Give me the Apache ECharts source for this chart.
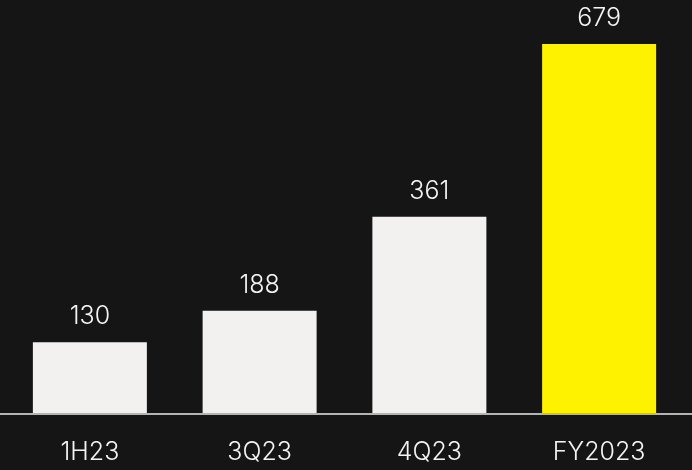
<!DOCTYPE html>
<html>
<head>
<meta charset="utf-8">
<script src="https://cdn.jsdelivr.net/npm/echarts@6/dist/echarts.min.js"></script>
<style>
html,body{margin:0;padding:0;background:#151515;}
#chart{width:692px;height:470px;}
</style>
</head>
<body>
<div id="chart"></div>
<script>
var categories = ['1H23', '3Q23', '4Q23', 'FY2023'];
var values = [130, 188, 361, 679];
var barColors = ['#f2f1ef', '#f2f1ef', '#f2f1ef', '#fff200'];

var chart = echarts.init(document.getElementById('chart'));
var font = 'Inter, "Noto Sans", sans-serif';
chart.setOption({
  backgroundColor: '#151515',
  animation: false,
  grid: {left: 5, right: 8, top: 44, bottom: 57},
  xAxis: {
    type: 'category',
    data: categories,
    axisLine: {show: false},
    axisTick: {show: false},
    axisLabel: {color: '#f4f4f4', fontSize: 25, fontWeight: 300, fontFamily: font, margin: 27}
  },
  yAxis: {
    type: 'value', min: 0, max: 679,
    show: false, splitLine: {show: false}
  },
  series: [{
    type: 'bar',
    barWidth: 114,
    data: values.map(function (v, i) { return {value: v, itemStyle: {color: barColors[i]}}; }),
    label: {show: true, position: 'top', distance: 13, color: '#f4f4f4', fontSize: 25, fontWeight: 300, fontFamily: font}
  }]
});
var y0 = chart.convertToPixel({yAxisIndex: 0}, 0);
chart.setOption({
  graphic: [{
    type: 'line', z: 10,
    shape: {x1: 0, y1: y0 + 1, x2: 692, y2: y0 + 1},
    style: {stroke: '#b4b4b4', lineWidth: 2}
  }]
});
</script>
</body>
</html>
